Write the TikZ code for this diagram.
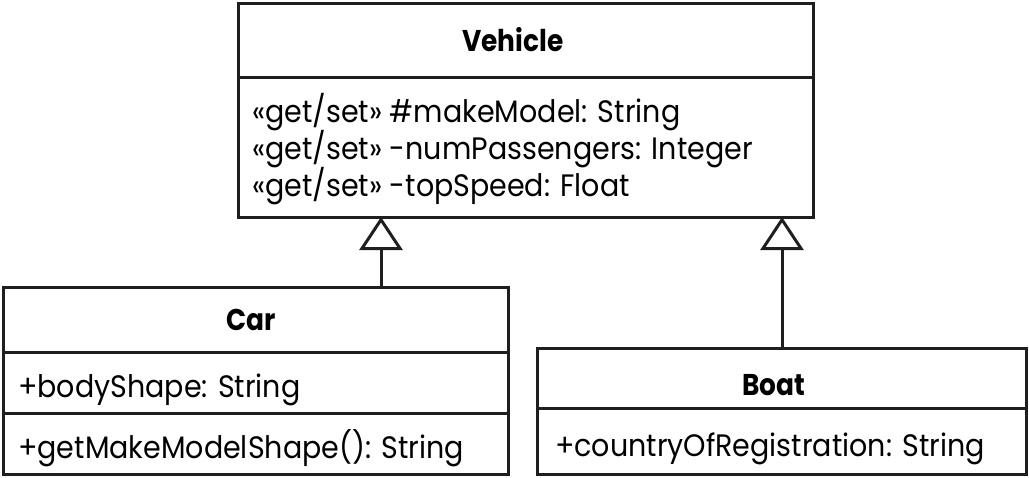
\documentclass[tikz,border=0pt]{standalone}
\usepackage{fontspec}
\setmainfont{Poppins}[FakeStretch=0.92]
\newfontfamily\titlefont{Poppins}[FakeStretch=0.88]
\usetikzlibrary{arrows.meta}
\tikzset{
  classbox/.style={draw=black!88, line width=3pt, inner sep=0pt, outer sep=0pt, rectangle},
  divider/.style={draw=black!88, line width=3pt},
  title/.style={inner sep=0pt, font=\titlefont\fontsize{30}{36}\selectfont\bfseries},
  member/.style={inner sep=0pt, anchor=base west, font=\fontsize{31}{36}\selectfont},
  inherit/.style={draw=black!88, line width=3pt, -{Triangle[open, length=33pt, width=43pt, line width=3pt]}}
}
\begin{document}
\begin{tikzpicture}[x=1pt,y=-1pt]
\useasboundingbox (0,0) rectangle (1029,477);
% Vehicle
\node[classbox, minimum width=575pt, minimum height=214pt] (vehicle) at (525.5,110) {};
\draw[divider] (vehicle.west |- 0,77) -- (vehicle.east |- 0,77);
\node[title] (vtitle) at (513,40) {Vehicle};
\node[member] (v1) at (252,122) {«get/set» \#makeModel: String};
\node[member] (v2) at (252,159) {«get/set» -numPassengers: Integer};
\node[member] (v3) at (252,196) {«get/set» -topSpeed: Float};
% Car
\node[classbox, minimum width=505pt, minimum height=187pt] (car) at (255.5,380.5) {};
\draw[divider] (car.west |- 0,352) -- (car.east |- 0,352);
\draw[divider] (car.west |- 0,413) -- (car.east |- 0,413);
\node[title] (ctitle) at (251,320) {Car};
\node[member] (c1) at (18,397) {+bodyShape: String};
\node[member] (c2) at (18,458) {+getMakeModelShape(): String};
% Boat
\node[classbox, minimum width=489pt, minimum height=126pt] (boat) at (781.5,411) {};
\draw[divider] (boat.west |- 0,408) -- (boat.east |- 0,408);
\node[title] (btitle) at (774,385) {Boat};
\node[member] (b1) at (555,456) {+countryOfRegistration: String};
% Generalization
\coordinate (carhook) at (381,287);
\coordinate (boathook) at (782,348);
\draw[inherit] (carhook) -- (carhook |- vehicle.south);
\draw[inherit] (boathook) -- (boathook |- vehicle.south);
\end{tikzpicture}
\end{document}
